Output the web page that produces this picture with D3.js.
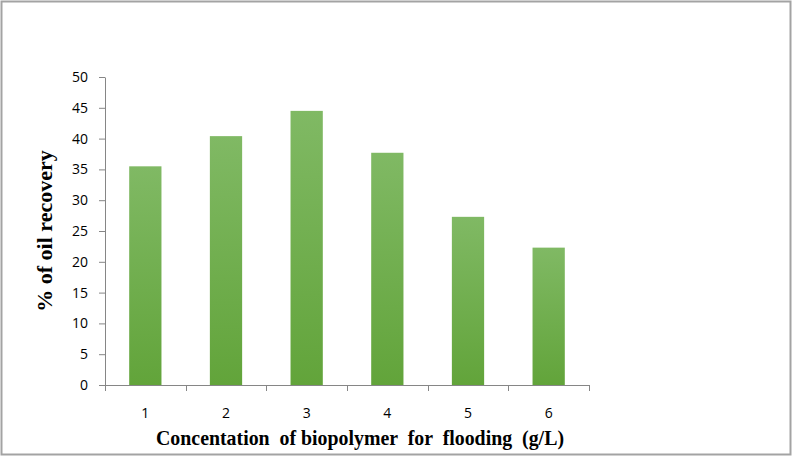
<!DOCTYPE html>
<html>
<head>
<meta charset="utf-8">
<script src="https://cdn.jsdelivr.net/npm/d3@7"></script>
<style>
  body { margin: 0; background: #fff; }
  svg { display: block; }
</style>
</head>
<body>
<div id="chart"></div>
<script>
// data
const categories = ["1", "2", "3", "4", "5", "6"];
const recovery = [35.5, 40.4, 44.5, 37.7, 27.3, 22.3];
const yTicks = [0, 5, 10, 15, 20, 25, 30, 35, 40, 45, 50];

const W = 794, H = 458;
const plotLeft = 105, plotRight = 589, plotTop = 77, plotBottom = 385;

const svg = d3.select("#chart").append("svg")
    .attr("width", W)
    .attr("height", H);

svg.append("rect")
    .attr("width", W).attr("height", H)
    .attr("fill", "#fff");

// frame round the whole picture
svg.append("rect")
    .attr("x", 1.5).attr("y", 1.5)
    .attr("width", 789).attr("height", 453)
    .attr("fill", "none")
    .attr("stroke", "#a3a3a3")
    .attr("stroke-width", 2);

const grad = svg.append("defs").append("linearGradient")
    .attr("id", "barGrad")
    .attr("x1", 0).attr("y1", 0).attr("x2", 0).attr("y2", 1);
grad.append("stop").attr("offset", "0%").attr("stop-color", "#80b964");
grad.append("stop").attr("offset", "100%").attr("stop-color", "#62a43a");

const x = d3.scaleBand()
    .domain(categories)
    .range([plotLeft, plotRight])
    .paddingInner(0.6)
    .paddingOuter(0.3);

const y = d3.scaleLinear()
    .domain([0, 50])
    .range([plotBottom, plotTop]);

// bars
svg.append("g")
    .selectAll("rect")
    .data(recovery)
    .join("rect")
    .attr("x", (d, i) => x(categories[i]))
    .attr("y", d => y(d))
    .attr("width", x.bandwidth())
    .attr("height", d => y(0) - y(d))
    .attr("fill", "url(#barGrad)");

// y axis
const yAxis = svg.append("g")
    .attr("transform", `translate(${plotLeft},0)`)
    .call(d3.axisLeft(y).tickValues(yTicks).tickSize(6).tickSizeOuter(0).tickPadding(11));
yAxis.select(".domain").attr("stroke", "#868686");
yAxis.selectAll(".tick line").attr("stroke", "#868686");
yAxis.selectAll(".tick text")
    .attr("fill", "#000")
    .style("font-family", "'Open Sans', 'Liberation Sans', sans-serif")
    .style("font-size", "14px");

// x axis: ticks sit on band edges
const step = x.step();
const edges = d3.range(categories.length + 1).map(i => plotLeft + i * step);
const xAxis = svg.append("g");
xAxis.append("line")
    .attr("x1", plotLeft).attr("x2", plotRight)
    .attr("y1", plotBottom + 0.5).attr("y2", plotBottom + 0.5)
    .attr("stroke", "#868686");
xAxis.selectAll(".edge")
    .data(edges)
    .join("line")
    .attr("x1", d => Math.round(d) + 0.5).attr("x2", d => Math.round(d) + 0.5)
    .attr("y1", plotBottom).attr("y2", plotBottom + 6)
    .attr("stroke", "#868686");
xAxis.selectAll("text")
    .data(categories)
    .join("text")
    .attr("x", d => x(d) + x.bandwidth() / 2)
    .attr("y", 418)
    .attr("text-anchor", "middle")
    .style("font-family", "'Open Sans', 'Liberation Sans', sans-serif")
    .style("font-size", "14px")
    .text(d => d);

// axis titles
svg.append("text")
    .attr("x", 156)
    .attr("y", 445)
    .attr("textLength", 408)
    .attr("lengthAdjust", "spacingAndGlyphs")
    .style("font-family", "'Liberation Serif', 'DejaVu Serif', serif")
    .style("font-weight", "bold")
    .style("font-size", "22px")
    .style("white-space", "pre")
    .text("Concentation  of biopolymer  for  flooding  (g/L)");

svg.append("text")
    .attr("transform", "translate(52,231) rotate(-90)")
    .attr("text-anchor", "middle")
    .style("font-family", "'Liberation Serif', 'DejaVu Serif', serif")
    .style("font-weight", "bold")
    .style("font-size", "22px")
    .text("% of oil recovery");
</script>
</body>
</html>
